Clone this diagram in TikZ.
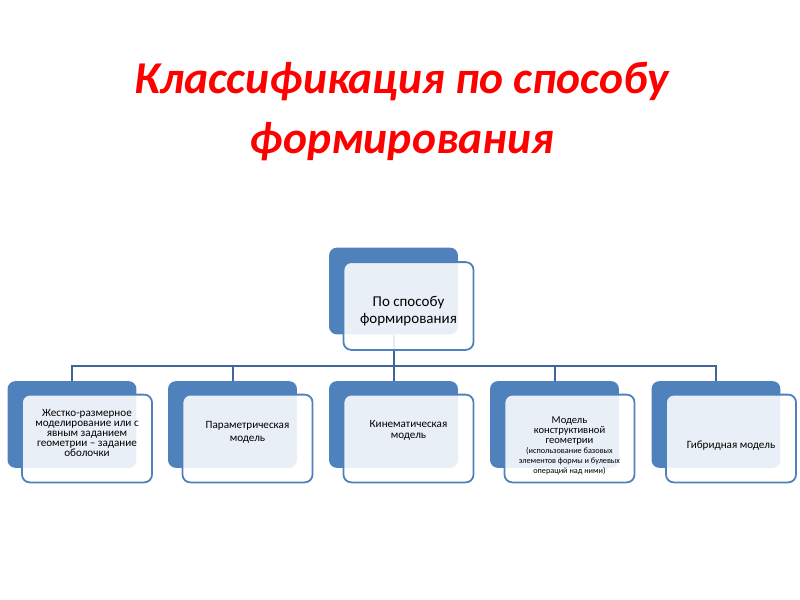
\documentclass[tikz,border=0pt]{standalone}
\usepackage{fontspec}
\setmainfont{Carlito}
\usepackage{tikz}
\usetikzlibrary{positioning, calc}
\definecolor{accentblue}{HTML}{4F81BD}
\definecolor{linkblue}{HTML}{3F6698}
\definecolor{titlered}{HTML}{FF0000}
\newcommand{\smallnote}[1]{{\fontsize{7.4}{9}\selectfont #1}}

\begin{document}
\begin{tikzpicture}[x=0.9pt, y=-0.9pt,
  back/.style={fill=accentblue, rounded corners=7pt, minimum width=116pt, minimum height=78pt},
  front/.style={draw=accentblue, line width=1.6pt, fill=white, fill opacity=0.88, text opacity=1,
               rounded corners=7pt, minimum width=117pt, minimum height=79pt, align=center,
               font=\fontsize{10}{9}\selectfont},
  link/.style={draw=linkblue, line width=1.8pt}
]
  \useasboundingbox (0,0) rectangle (800,600);

  \node[anchor=base, align=center, text=titlered, font=\fontsize{41}{54}\selectfont\bfseries\itshape]
    (title) at (402,153) {Классификация по способу\\формирования};

  % back plates
  \node[back] (b0) at (393.5,291) {};
  \node[back] (b1) at (72,424.5) {};
  \node[back] (b2) at (232.5,424.5) {};
  \node[back] (b3) at (393.5,424.5) {};
  \node[back] (b4) at (554.5,424.5) {};
  \node[back] (b5) at (716,424.5) {};

  % connectors
  \coordinate (bus) at (393.5,366);
  \foreach \i in {1,...,5}
    \draw[link] (b0.south) -- (bus) -| (b\i.north);

  % text boxes
  \node[front, font=\fontsize{13.5}{16}\selectfont] (f0) at ($(b0)+(15,15)$) {По способу\\формирования\\[-23pt]};
  \node[front] (f1) at ($(b1)+(15,14)$) {Жестко-размерное\\моделирование или с\\явным заданием\\геометрии – задание\\оболочки\\[1pt]};
  \node[front, font=\fontsize{10}{11.7}\selectfont] (f2) at ($(b2)+(15,14)$) {Параметрическая\\модель\\[1pt]};
  \node[front, font=\fontsize{10}{10}\selectfont] (f3) at ($(b3)+(15,14)$) {Кинематическая\\модель\\[6pt]};
  \node[front, font=\fontsize{9.5}{9}\selectfont] (f4) at ($(b4)+(15,14)$) {Модель\\конструктивной\\геометрии\\
    \smallnote{(использование базовых}\\\smallnote{элементов формы и булевых}\\\smallnote{операций над ними)}\\[-20pt]};
  \node[front, font=\fontsize{10}{10}\selectfont] (f5) at ($(b5)+(15,14)$) {Гибридная модель\\[-19pt]};
\end{tikzpicture}
\end{document}
